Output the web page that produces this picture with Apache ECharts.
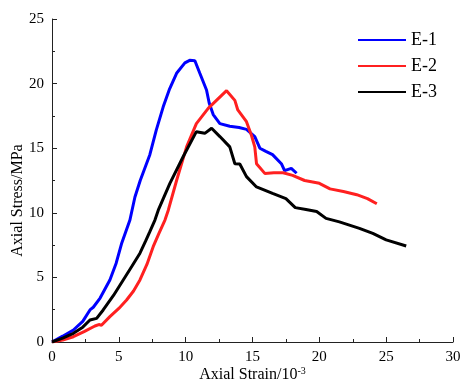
<!DOCTYPE html>
<html>
<head>
<meta charset="utf-8">
<script src="https://cdn.jsdelivr.net/npm/echarts@6/dist/echarts.min.js"></script>
<style>
  html, body { margin: 0; padding: 0; background: #fff; }
  #chart { width: 462px; height: 385px; }
</style>
</head>
<body>
<div id="chart"></div>
<script>
// strain (10^-3) / stress (MPa) pairs
const e1Strain = [0, 0.8, 1.6, 2.3, 2.84, 3.09, 3.6, 4.33, 4.8, 5.2, 5.83, 6.2, 6.6, 7.32, 7.8, 8.32, 8.8, 9.32, 9.94, 10.3, 10.69, 11.06, 11.56, 11.76, 12.06, 12.56, 13.3, 14.0, 14.55, 15.17, 15.55, 16.0, 16.5, 17.16, 17.4, 17.9, 18.3];
const e1Stress = [0, 0.45, 0.93, 1.6, 2.48, 2.69, 3.4, 4.8, 6.1, 7.6, 9.44, 11.2, 12.5, 14.5, 16.4, 18.2, 19.6, 20.8, 21.6, 21.8, 21.77, 20.8, 19.5, 18.5, 17.6, 16.9, 16.7, 16.6, 16.46, 15.9, 15.0, 14.75, 14.5, 13.8, 13.26, 13.44, 13.06];

const e2Strain = [0, 0.8, 1.6, 2.4, 3.21, 3.5, 3.7, 4.33, 5.0, 5.58, 6.1, 6.58, 7.1, 7.57, 8.0, 8.45, 8.7, 9.32, 10.07, 10.8, 11.7, 12.4, 13.06, 13.68, 13.9, 14.55, 14.92, 15.17, 15.3, 15.92, 16.6, 17.29, 18.0, 18.9, 20.0, 20.8, 21.8, 22.8, 23.6, 24.3];
const e2Stress = [0, 0.15, 0.41, 0.8, 1.24, 1.35, 1.3, 1.96, 2.6, 3.25, 3.95, 4.8, 6.0, 7.38, 8.4, 9.44, 10.2, 12.5, 15.1, 16.9, 18.1, 18.8, 19.45, 18.7, 17.96, 17.05, 16.0, 15.1, 13.8, 13.05, 13.1, 13.1, 12.9, 12.5, 12.28, 11.85, 11.65, 11.4, 11.1, 10.7];

const e3Strain = [0, 0.8, 1.6, 2.3, 2.84, 3.34, 3.83, 4.6, 5.33, 6.0, 6.58, 7.0, 7.32, 7.7, 7.95, 8.82, 9.81, 10.8, 11.43, 11.94, 12.56, 13.3, 13.68, 14.05, 14.55, 15.3, 16.5, 17.5, 18.2, 19.0, 19.8, 20.5, 21.5, 23.0, 24.0, 25.0, 26.5];
const e3Stress = [0, 0.3, 0.67, 1.15, 1.7, 1.83, 2.48, 3.6, 4.8, 5.9, 6.87, 7.8, 8.54, 9.44, 10.2, 12.28, 14.34, 16.28, 16.15, 16.54, 15.9, 15.1, 13.8, 13.78, 12.8, 12.0, 11.5, 11.1, 10.4, 10.25, 10.1, 9.57, 9.3, 8.8, 8.4, 7.9, 7.43];

const seriesNames = ["E-1", "E-2", "E-3"];
const seriesColors = ["#0000ff", "#ff2020", "#000000"];

function pairs(xs, ys) {
  return xs.map((x, i) => [x, ys[i]]);
}

const chart = echarts.init(document.getElementById("chart"));
const font = "Liberation Serif";

const axisCommon = {
  axisLine: { show: true, onZero: false, lineStyle: { color: "#222", width: 1 } },
  axisTick: { show: true, inside: true, length: 5, lineStyle: { color: "#222" } },
  minorTick: { show: true, splitNumber: 2, length: 3, lineStyle: { color: "#222" } },
  splitLine: { show: false },
  axisLabel: { color: "#000", fontFamily: font, fontSize: 15, margin: 8 }
};

chart.setOption({
  animation: false,
  grid: { left: 52, right: 9, top: 19, bottom: 43, containLabel: false, outerBoundsMode: "none" },
  legend: {
    orient: "vertical",
    left: 358,
    top: 30,
    padding: 0,
    icon: "rect",
    itemWidth: 48,
    itemHeight: 2,
    itemGap: 6,
    data: seriesNames,
    textStyle: { color: "#000", fontFamily: font, fontSize: 18, lineHeight: 20 }
  },
  xAxis: Object.assign({}, axisCommon, {
    type: "value",
    min: 0,
    max: 30,
    interval: 5,
    name: "{n|Axial Strain/10}{s|-3}",
    nameLocation: "middle",
    nameGap: 24,
    nameMoveOverlap: false,
    nameTextStyle: {
      rich: {
        n: { fontFamily: font, fontSize: 16, color: "#000" },
        s: { fontFamily: font, fontSize: 10, color: "#000", verticalAlign: "top", padding: [0, 0, 8, 0] }
      }
    }
  }),
  yAxis: Object.assign({}, axisCommon, {
    type: "value",
    min: 0,
    max: 25,
    interval: 5,
    name: "Axial Stress/MPa",
    nameLocation: "middle",
    nameGap: 26,
    nameMoveOverlap: false,
    nameTextStyle: { fontFamily: font, fontSize: 16, color: "#000", padding: [0, 40, 0, 0] }
  }),
  series: [
    { data: pairs(e1Strain, e1Stress) },
    { data: pairs(e2Strain, e2Stress) },
    { data: pairs(e3Strain, e3Stress) }
  ].map((s, i) => ({
    name: seriesNames[i],
    type: "line",
    data: s.data,
    symbol: "none",
    smooth: false,
    color: seriesColors[i],
    lineStyle: { width: 3, color: seriesColors[i] }
  }))
});
</script>
</body>
</html>
